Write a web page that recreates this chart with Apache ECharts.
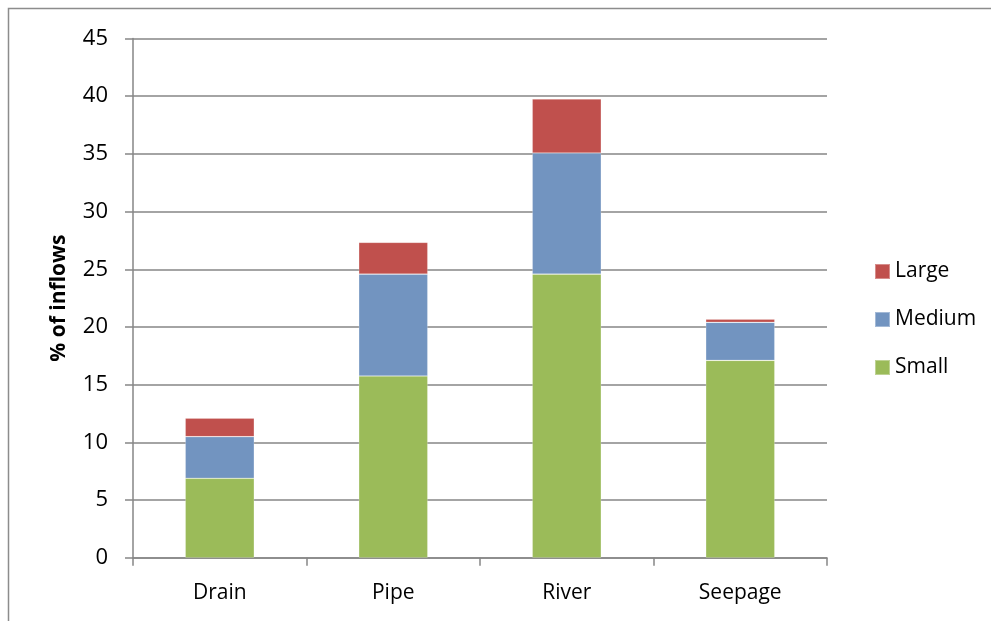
<!DOCTYPE html>
<html>
<head>
<meta charset="utf-8">
<script src="https://cdn.jsdelivr.net/npm/echarts@6/dist/echarts.min.js"></script>
<style>
  html, body { margin: 0; padding: 0; background: #fff; }
  #chart { width: 1001px; height: 621px; }
</style>
</head>
<body>
<div id="chart"></div>
<script>
// Share of inflows by source type, split by size class
const categories = ['Drain', 'Pipe', 'River', 'Seepage'];
const smallValues = [6.88, 15.75, 24.58, 17.1];
const mediumValues = [3.61, 8.83, 10.49, 3.3];
const largeValues = [1.61, 2.75, 4.68, 0.28];
const yTicks = { min: 0, max: 45, interval: 5 };

const FONT = '"Open Sans", "DejaVu Sans", sans-serif';
const AXIS_GRAY = '#868686';

const chart = echarts.init(document.getElementById('chart'), null, { renderer: 'canvas' });

function barSeries(name, values, color) {
  return {
    name: name,
    type: 'bar',
    stack: 'inflows',
    barWidth: 69,
    data: values,
    itemStyle: { color: color, borderColor: 'rgba(255,255,255,0.35)', borderWidth: 0.6 },
    emphasis: { disabled: true }
  };
}

chart.setOption({
  animation: false,
  backgroundColor: '#ffffff',
  textStyle: { fontFamily: FONT },
  graphic: [{
    type: 'polyline',
    shape: { points: [[991, 8.5], [8.5, 8.5], [8.5, 640]] },
    style: { stroke: '#8c8c8c', lineWidth: 1.5, fill: null },
    silent: true
  }],
  grid: { left: 133, right: 174, top: 38.5, bottom: 63.3, containLabel: false },
  legend: {
    orient: 'vertical',
    left: 869,
    top: 256,
    itemWidth: 15,
    itemHeight: 15,
    itemGap: 27,
    icon: 'rect',
    data: ['Large', 'Medium', 'Small'],
    textStyle: { fontFamily: FONT, fontSize: 21, color: '#000', lineHeight: 21 }
  },
  xAxis: {
    type: 'category',
    data: categories,
    axisLine: { lineStyle: { color: AXIS_GRAY, width: 1.5 } },
    axisTick: { show: true, length: 8, lineStyle: { color: AXIS_GRAY, width: 1.5 } },
    axisLabel: { fontFamily: FONT, fontSize: 21, color: '#000', margin: 25 },
    splitLine: { show: false }
  },
  yAxis: {
    type: 'value',
    min: yTicks.min,
    max: yTicks.max,
    interval: yTicks.interval,
    name: '% of inflows',
    nameLocation: 'middle',
    nameGap: 63,
    nameRotate: 90,
    nameTextStyle: { fontFamily: FONT, fontSize: 21, fontWeight: 'bold', color: '#000' },
    axisLine: { show: true, lineStyle: { color: AXIS_GRAY, width: 1.5 } },
    axisTick: { show: true, length: 8, lineStyle: { color: AXIS_GRAY, width: 1.5 } },
    axisLabel: { fontFamily: FONT, fontSize: 22, color: '#000', margin: 25 },
    splitLine: { show: true, lineStyle: { color: AXIS_GRAY, width: 1.5 } }
  },
  series: [
    barSeries('Small', smallValues, '#9BBB59'),
    barSeries('Medium', mediumValues, '#7294C0'),
    barSeries('Large', largeValues, '#C0504D')
  ]
});
</script>
</body>
</html>
